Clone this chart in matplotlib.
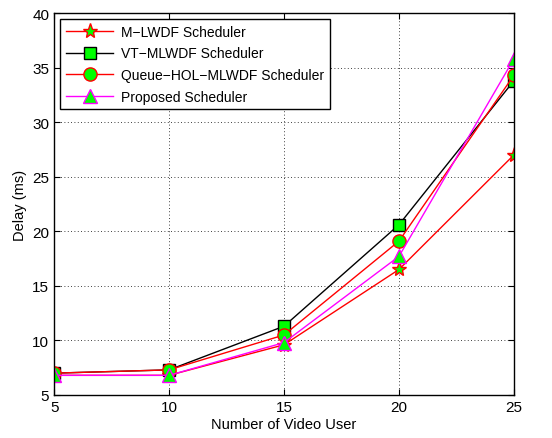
import numpy as np
import matplotlib
matplotlib.use('Agg')
import matplotlib.pyplot as plt

users = [5, 10, 15, 20, 25]
mlwdf = [6.8, 6.8, 9.6, 16.5, 27.0]
vt_mlwdf = [7.0, 7.3, 11.3, 20.6, 33.8]
queue_hol = [7.0, 7.3, 10.5, 19.1, 34.3]
proposed = [6.8, 6.8, 9.8, 17.7, 35.8]

plt.rcParams['font.family'] = ['Liberation Sans', 'DejaVu Sans']

fig = plt.figure(figsize=(5.52, 4.39), dpi=100)
ax = fig.add_axes([0.098, 0.098, 0.833, 0.870])

ax.plot(users, mlwdf, '-', color='red', marker='*', markersize=11,
        markerfacecolor='#00ff00', markeredgecolor='red', lw=1, label='M\u2212LWDF Scheduler')
ax.plot(users, vt_mlwdf, '-', color='black', marker='s', markersize=8.5,
        markerfacecolor='#00ff00', markeredgecolor='black', lw=1, label='VT\u2212MLWDF Scheduler')
ax.plot(users, queue_hol, '-', color='red', marker='o', markersize=9.5,
        markerfacecolor='#00ff00', markeredgecolor='red', lw=1, label='Queue\u2212HOL\u2212MLWDF Scheduler')
ax.plot(users, proposed, '-', color='magenta', marker='^', markersize=10,
        markerfacecolor='#00ff00', markeredgecolor='magenta', lw=1, label='Proposed Scheduler')

ax.set_xlim(5, 25)
ax.set_ylim(5, 40)
ax.set_xticks(users)
ax.set_yticks(np.arange(5, 41, 5))
ax.tick_params(direction='in', top=True, right=True, labelsize=11, length=4)
ax.grid(True, linestyle=(0, (1, 3)), color='black', lw=0.6)
for s in ax.spines.values():
    s.set_linewidth(1)

ax.set_xlabel('Number of Video User', fontsize=10.5, labelpad=2)
ax.set_ylabel('Delay (ms)', fontsize=10.5, labelpad=4)

leg = ax.legend(loc='upper left', fontsize=10, fancybox=False, framealpha=1,
                edgecolor='black', borderaxespad=0.45, handlelength=3.4,
                labelspacing=0.55, borderpad=0.4, handletextpad=0.6)
leg.get_frame().set_linewidth(1)

plt.savefig('out.png', dpi=100)
